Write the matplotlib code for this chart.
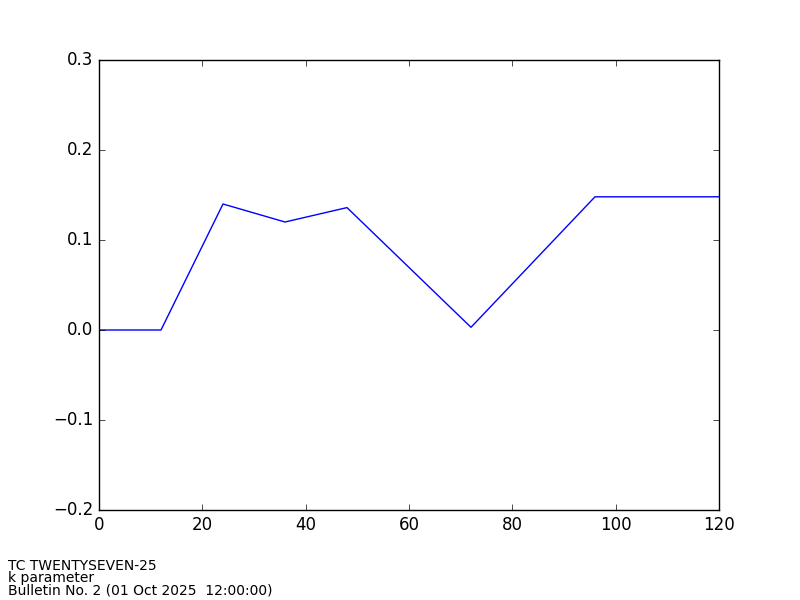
import matplotlib
matplotlib.use('Agg')
import matplotlib.pyplot as plt

plt.style.use('classic')

# forecast hour and k parameter
hours = [0, 12, 24, 36, 48, 72, 96, 120]
kpar = [0.0, 0.0, 0.14, 0.12, 0.136, 0.003, 0.148, 0.148]

info = ['TC TWENTYSEVEN-25', 'k parameter', 'Bulletin No. 2 (01 Oct 2025  12:00:00)']

fig = plt.figure(figsize=(8, 6), dpi=100, facecolor='white')
ax = fig.add_axes([0.12375, 0.15, 0.775, 0.75])
ax.plot(hours, kpar, color='b', linewidth=1.0)
ax.set_xlim(0, 120)
ax.set_ylim(-0.2, 0.3)
ax.set_xticks([0, 20, 40, 60, 80, 100, 120])
ax.set_yticks([-0.2, -0.1, 0.0, 0.1, 0.2, 0.3])

for i, t in enumerate(info):
    fig.text(0.01, 0.05 - i * 0.02, t, fontsize=10, va='baseline', ha='left')

fig.savefig('out.png', dpi=100, facecolor='white')
